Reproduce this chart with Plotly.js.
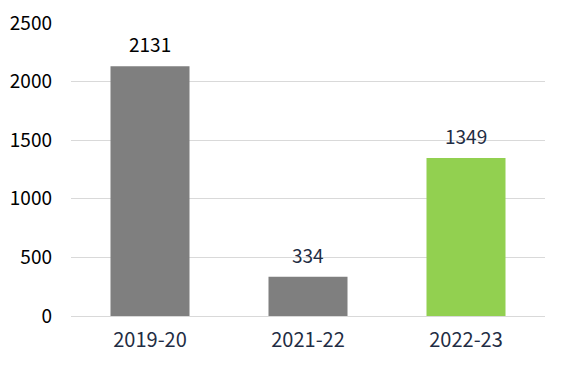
<!DOCTYPE html>
<html><head><meta charset="utf-8">
<script src="https://cdn.plot.ly/plotly-3.0.1.min.js"></script>
<style>html,body{margin:0;padding:0;background:#fff}#chart{width:571px;height:376px}</style>
</head><body><div id="chart"></div>
<script>
const categories = ["2019-20", "2021-22", "2022-23"];
const values = [2131, 334, 1349];
const barColors = ["#7f7f7f", "#7f7f7f", "#92d050"];
const labelColors = ["#000000", "#1f2d44", "#1f2d44"];
const yTicks = [0, 500, 1000, 1500, 2000, 2500];

const font = "'Noto Sans CJK JP', 'Noto Sans', sans-serif";

const annotations = categories.map((c, i) => ({
  x: c, y: values[i], text: String(values[i]), showarrow: false,
  yanchor: "bottom", yshift: 7,
  font: {family: font, size: 19, color: labelColors[i]}
}));

Plotly.newPlot("chart", [{
  type: "bar", x: categories, y: values,
  marker: {color: barColors, line: {width: 0}},
  width: 0.5, hoverinfo: "none"
}], {
  width: 571, height: 376,
  margin: {l: 71, r: 26, t: 23, b: 60},
  paper_bgcolor: "#ffffff", plot_bgcolor: "#ffffff",
  showlegend: false,
  xaxis: {
    type: "category", showgrid: false, zeroline: false, showline: false,
    ticks: "", ticklabelstandoff: 10,
    tickfont: {family: font, size: 20, color: "#1f2d44"}
  },
  yaxis: {
    range: [0, 2500], tickvals: yTicks, ticktext: yTicks.map(String),
    showgrid: true, gridcolor: "#d9d9d9", gridwidth: 1,
    zeroline: true, zerolinecolor: "#d9d9d9", zerolinewidth: 1,
    showline: false, ticks: "", ticklabelstandoff: 18,
    tickfont: {family: font, size: 19, color: "#000000"}
  },
  annotations: annotations
}, {displayModeBar: false, staticPlot: true});
</script></body></html>
